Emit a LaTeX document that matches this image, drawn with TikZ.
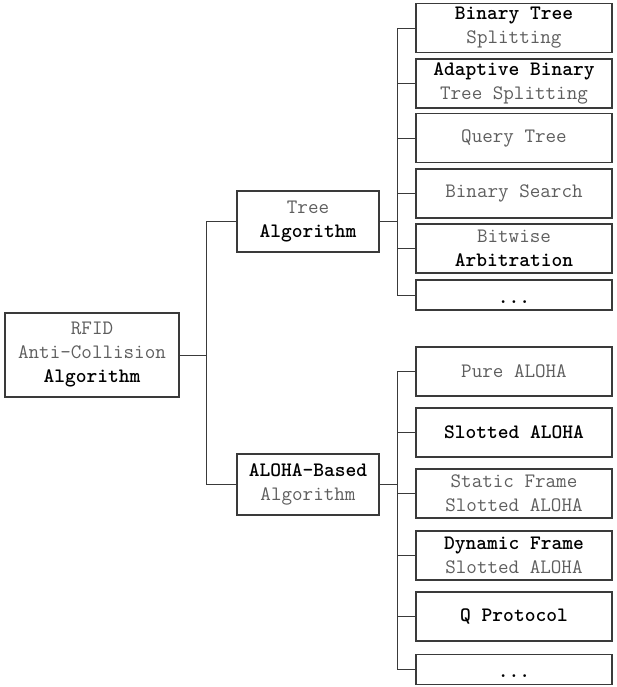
\documentclass[tikz,border=0pt]{standalone}
\usepackage{fontspec}
\definecolor{txtgray}{HTML}{5E5E5E}
\definecolor{linegray}{HTML}{3A3A3A}
\newcommand{\hl}[1]{{\bfseries\color{black}#1}}
\tikzset{
    box/.style={draw=linegray, line width=1.1pt, inner sep=0pt, align=center,
        text=txtgray, font=\ttfamily\fontsize{20.5}{24}\selectfont},
    rootbox/.style={box, minimum width=174pt, minimum height=84pt},
    midbox/.style={box, minimum width=142pt, minimum height=61pt},
    leafbox/.style={box, minimum width=196pt, minimum height=49pt},
    dotbox/.style={box, minimum width=196pt, text height=20pt, text depth=4pt, inner ysep=3pt},
    conn/.style={draw=linegray, line width=0.9pt}
}
\begin{document}
\begin{tikzpicture}[x=1pt,y=-1pt]
    \useasboundingbox (0,0) rectangle (617,687);

    % Root
    \node[rootbox] (root) at (92,355) {RFID\\Anti-Collision\\\hl{Algorithm}};

    % Second level
    \node[midbox] (tree) at (308,221.5) {Tree\\\hl{Algorithm}};
    \node[midbox] (aloha) at (308,484.5) {\hl{ALOHA-Based}\\Algorithm};

    % Tree algorithms
    \node[leafbox] (t1) at (514,28) {\hl{Binary Tree}\\Splitting};
    \node[leafbox] (t2) at (514,83.5) {\hl{Adaptive Binary}\\Tree Splitting};
    \node[leafbox] (t3) at (514,138) {Query Tree};
    \node[leafbox] (t4) at (514,193.5) {Binary Search};
    \node[leafbox] (t5) at (514,248.5) {Bitwise\\\hl{Arbitration}};
    \node[dotbox] (t6) at (514,295) {\hl{...}};

    % ALOHA algorithms
    \node[leafbox] (a1) at (514,371.5) {Pure ALOHA};
    \node[leafbox] (a2) at (514,432.5) {\hl{Slotted ALOHA}};
    \node[leafbox] (a3) at (514,493.5) {Static Frame\\Slotted ALOHA};
    \node[leafbox] (a4) at (514,555.5) {\hl{Dynamic Frame}\\Slotted ALOHA};
    \node[leafbox] (a5) at (514,616.5) {\hl{Q Protocol}};
    \node[dotbox] (a6) at (514,669.5) {\hl{...}};

    % Connectors
    \draw[conn] (root.east) -- ++(27,0) coordinate (rj);
    \foreach \n in {tree,aloha}
        \draw[conn] (rj) |- (\n.west);

    \draw[conn] (tree.east) -- ++(18,0) coordinate (tj);
    \foreach \n in {t1,t2,t3,t4,t5,t6}
        \draw[conn] (tj) |- (\n.west);

    \draw[conn] (aloha.east) -- ++(18,0) coordinate (aj);
    \foreach \n in {a1,a2,a3,a4,a5,a6}
        \draw[conn] (aj) |- (\n.west);
\end{tikzpicture}
\end{document}
